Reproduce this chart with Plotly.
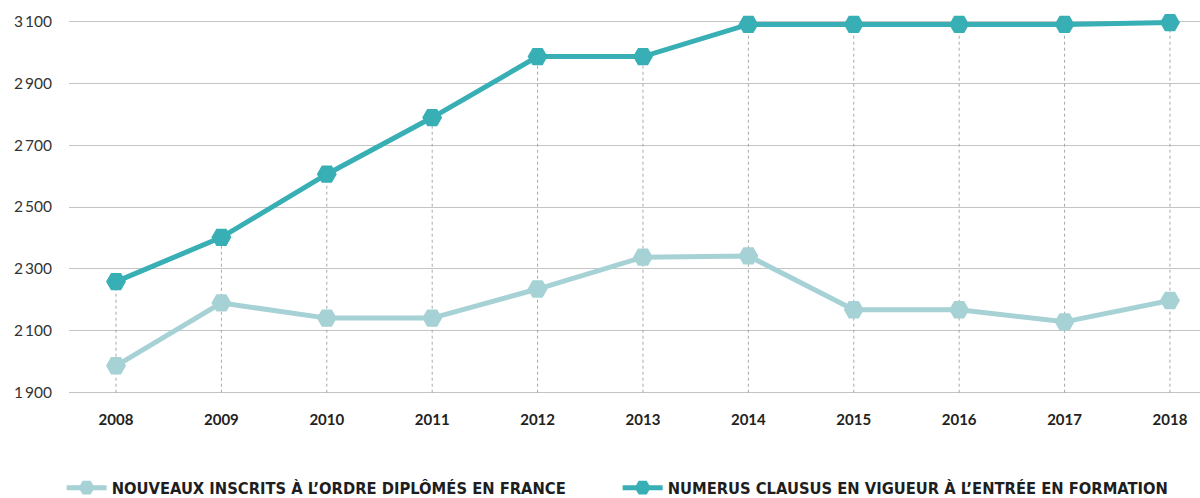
import plotly.graph_objects as go

years = [2008, 2009, 2010, 2011, 2012, 2013, 2014, 2015, 2016, 2017, 2018]
inscrits = [1987, 2190, 2141, 2141, 2235, 2338, 2342, 2168, 2168, 2129, 2198]
numerus = [2259, 2402, 2606, 2789, 2986, 2986, 3090, 3090, 3090, 3090, 3096]
ytick_vals = [1900, 2100, 2300, 2500, 2700, 2900, 3100]
ytick_text = ["1\u2009900", "2\u2009100", "2\u2009300", "2\u2009500", "2\u2009700", "2\u2009900", "3\u2009100"]
series_names = ["NOUVEAUX INSCRITS À L\u2019ORDRE DIPLÔMÉS EN FRANCE",
                "NUMERUS CLAUSUS EN VIGUEUR À L\u2019ENTRÉE EN FORMATION"]

LIGHT = "#a6d2d6"
DARK = "#38afb4"
BASE = 1900

# dotted drop lines from the upper series down to the baseline
drop_x, drop_y = [], []
for x, v in zip(years, numerus):
    drop_x += [x, x, None]
    drop_y += [BASE, v, None]

fig = go.Figure()
fig.add_trace(go.Scatter(x=drop_x, y=drop_y, mode="lines",
                         line=dict(color="#a8a8a8", width=1, dash="dot"),
                         showlegend=False, hoverinfo="skip"))
fig.add_trace(go.Scatter(x=years, y=inscrits, mode="lines+markers", name=series_names[0],
                         line=dict(color=LIGHT, width=5),
                         marker=dict(symbol="hexagon2", size=20, color=LIGHT),
                         cliponaxis=False))
fig.add_trace(go.Scatter(x=years, y=numerus, mode="lines+markers", name=series_names[1],
                         line=dict(color=DARK, width=5),
                         marker=dict(symbol="hexagon2", size=20, color=DARK),
                         cliponaxis=False))

plot_h = 390
fig.update_layout(
    width=1200, height=498,
    margin=dict(l=69, r=0, t=5, b=103, autoexpand=False),
    paper_bgcolor="white", plot_bgcolor="white",
    showlegend=True,
    legend=dict(orientation="h", x=-0.0065, xanchor="left", y=-93 / plot_h, yanchor="middle",
                font=dict(family="Liberation Sans Narrow, DejaVu Sans Condensed, Roboto Condensed, Arial Narrow, sans-serif",
                          size=16.4, color="#1e1e1e", weight="bold"),
                itemwidth=40, tracegroupgap=0, entrywidth=501, entrywidthmode="pixels"),
    xaxis=dict(range=[2007.554, 2018.285], tickvals=years, ticktext=[str(y) for y in years],
               showgrid=False, zeroline=False, showline=False, ticks="",
               ticklabelstandoff=14,
               tickfont=dict(family="Lato, Open Sans, sans-serif", size=15, color="#222", weight="bold")),
    yaxis=dict(range=[1892.6, 3152.7], tickvals=ytick_vals, ticktext=ytick_text,
               showgrid=True, gridcolor="#c4c4c4", gridwidth=1.2, zeroline=False, showline=False,
               ticks="", ticklabelstandoff=16,
               tickfont=dict(family="Lato, Open Sans, sans-serif", size=15.5, color="#333")),
)

fig.write_html("out.html", config={"displayModeBar": False},
               post_script="document.body.style.margin='0';document.body.style.overflow='hidden';")
